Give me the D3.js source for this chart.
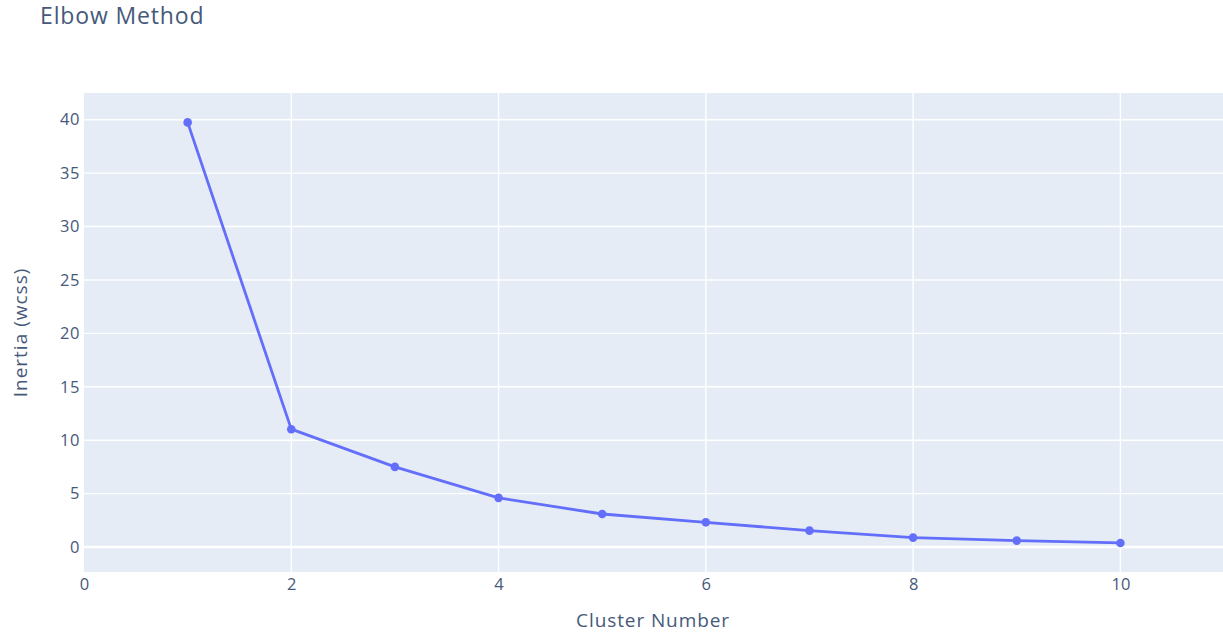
<!DOCTYPE html>
<html>
<head>
<meta charset="utf-8">
<script src="https://cdn.jsdelivr.net/npm/d3@7"></script>
<style>
  body { margin: 0; background: #fff; }
  svg text { font-family: "Open Sans", "Noto Sans", sans-serif; fill: #46597a; }
</style>
</head>
<body>
<div id="chart"></div>
<script>
// Dados do gráfico (método do cotovelo)
const clusters = [1, 2, 3, 4, 5, 6, 7, 8, 9, 10];
const inertia = [39.75, 11.03, 7.5, 4.6, 3.09, 2.31, 1.53, 0.88, 0.6, 0.38];
const xTicks = [0, 2, 4, 6, 8, 10];
const yTicks = [0, 5, 10, 15, 20, 25, 30, 35, 40];

const W = 1223, H = 632;
const margin = { top: 93, right: 0, bottom: 60, left: 84 };
const width = W - margin.left - margin.right;
const height = H - margin.top - margin.bottom;

const data = clusters.map((c, i) => ({ k: c, v: inertia[i] }));

const svg = d3.select('#chart').append('svg')
  .attr('width', W).attr('height', H);

// Título
svg.append('text')
  .attr('x', 40).attr('y', 24)
  .style('font-size', '23px')
  .style('letter-spacing', '0.85px')
  .text('Elbow Method');

const g = svg.append('g').attr('transform', `translate(${margin.left},${margin.top})`);

const x = d3.scaleLinear().domain([0, 10.99]).range([0, width]);
const y = d3.scaleLinear().domain([-2.34, 42.5]).range([height, 0]);

// Fundo da área do gráfico
g.append('rect')
  .attr('width', width).attr('height', height)
  .attr('fill', '#e5ecf6');

// Grades
g.selectAll('.xgrid').data(xTicks.filter(d => d > 0)).enter().append('line')
  .attr('x1', d => x(d)).attr('x2', d => x(d))
  .attr('y1', 0).attr('y2', height)
  .attr('stroke', '#fff').attr('stroke-width', 1.4);

g.selectAll('.ygrid').data(yTicks).enter().append('line')
  .attr('x1', 0).attr('x2', width)
  .attr('y1', d => y(d)).attr('y2', d => y(d))
  .attr('stroke', '#fff').attr('stroke-width', d => d === 0 ? 2.6 : 1.4);

// Eixos (só rótulos)
const xAxis = g.append('g')
  .attr('transform', `translate(0,${height})`)
  .call(d3.axisBottom(x).tickValues(xTicks).tickSize(0).tickPadding(6));
xAxis.select('.domain').remove();
xAxis.selectAll('text').style('font-size', '16.5px').style('font-family', null).style('fill', null);

const yAxis = g.append('g')
  .call(d3.axisLeft(y).tickValues(yTicks).tickSize(0).tickPadding(4));
yAxis.select('.domain').remove();
yAxis.selectAll('text').style('font-size', '16.5px').style('font-family', null).style('fill', null)
  .style('letter-spacing', '0.6px');

// Linha
const line = d3.line().x(d => x(d.k)).y(d => y(d.v));
g.append('path')
  .datum(data)
  .attr('d', line)
  .attr('fill', 'none')
  .attr('stroke', '#636efa')
  .attr('stroke-width', 2.8)
  .attr('stroke-linejoin', 'round');

// Pontos
g.selectAll('.point').data(data).enter().append('circle')
  .attr('cx', d => x(d.k)).attr('cy', d => y(d.v))
  .attr('r', 4.3)
  .attr('fill', '#636efa');

// Títulos dos eixos
svg.append('text')
  .attr('x', 653).attr('y', 627)
  .style('text-anchor', 'middle')
  .style('font-size', '19px')
  .style('letter-spacing', '0.9px')
  .text('Cluster Number');

svg.append('text')
  .attr('transform', `translate(27,${margin.top + height / 2}) rotate(-90)`)
  .style('text-anchor', 'middle')
  .style('font-size', '19px')
  .style('letter-spacing', '1px')
  .text('Inertia (wcss)');
</script>
</body>
</html>
